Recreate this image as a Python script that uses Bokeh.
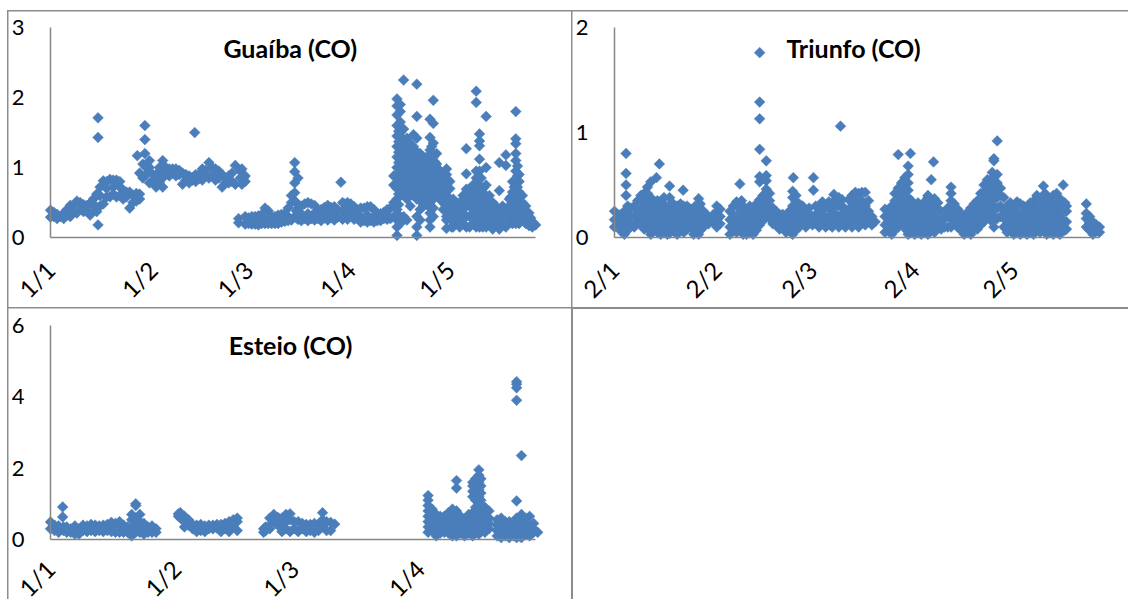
from bokeh.plotting import figure
from bokeh.layouts import column, row
from bokeh.models import Label, FixedTicker, Spacer
from bokeh.embed import file_html
from bokeh.resources import INLINE
import math

# Each station: days since the first tick, and the readings seen in that day's column.
guaiba_days = [0,2,4,6,8,10,12,14,14.4,16,18,20,22,24,26,26.3,28,28.6,30,32,34,36,38,40,42,43.7,44,46,48,50,52,54,56,57,58,59,61,63,65,67,69,71,73,74,75,77,79,81,83,85,87,88,89,91,93,95,97,99,101,103,
               104,105,106,107,108,109,110,111,112,113,114,115,116,117,118,119,120,121,122,124,126,127,129,130,131,132,134,136,138,140,141,142,144,145,146,147]
guaiba_vals = [[.29,.39],[.27,.33],[.27,.35],[.30,.46],[.35,.52],[.37,.47],[.32,.49],[.37,.62],[.18,1.43,1.71],[.48,.81],[.58,.83],[.58,.82],[.55,.68],[.42,.65],[.52,.63],[1.17],[.85,1.05],[1.2,1.4,1.6],[.78,1.0,1.1],[.72,.85],[.72,.85,1.1],[.88,.98],[.88,.98],[.76,.92],[.78,.88],[1.5],[.80,.90],[.82,.98],[.85,1.07],[.82,.98],[.72,.90],[.78,.88],[.76,1.03],[.21,.27],[.76,.98],[.19,.30,.80,.88],[.19,.30],[.18,.31],[.2,.42],[.2,.30],[.2,.32],[.23,.34],[.25,.5,.6],[.3,.52,.64,.78,.94,1.07],[.26,.42,.85],[.27,.48],[.27,.48],[.27,.38],[.28,.43],[.28,.43],[.29,.40],[.79],[.3,.48],[.3,.48],[.27,.40],[.24,.42],[.24,.44],[.24,.33],[.27,.36],[.27,.42],
               [.3,.5,.75,.88],[.03,.15,.25,.4,.55,.7,.85,1.0,1.15,1.3,1.45,1.6,1.75,1.88,1.98],[.2,.3,.6,.75,.9,1.05,1.2,1.35,1.5,1.65,1.8,1.9],[.3,.65,.8,.95,1.1,1.25,1.4,1.55,2.25],[.25,.55,.7,.85,1.0,1.15,1.3,1.42],[.45,.75,.9,1.05,1.2,1.35],[.6,.75,.9,1.05,1.2,1.3,1.47],[.03,.15,.3,.55,.7,.85,1.0,1.15,1.42,1.73,2.19],[.25,.4,.6,.75,.9,1.05,1.2],[.45,.6,.75,.9,1.05,1.15],[.55,.7,.85,1.0,1.15],[.15,.25,.35,.5,.65,.8,.95,1.1,1.25,1.43,1.69],[.3,.42,.55,.7,.85,1.0,1.15,1.35,1.63,1.96],[.6,.75,.9,1.05,1.2],[.6,.75,.85,.95],[.4,.55,.7,.85],[.13,.25,.3,.45,.6,.75,.9,.98],[.4,.55,.7,.8],[.15,.25,.35,.45,.55],[.15,.3,.45,.5],[.15,.3,.45,.55,.69,.91,1.27],[.15,.3,.45,.6,.7],[.15,.3,.45,.6,.75,.85,.95,1.93,2.09],[.15,.3,.45,.6,.75,.95,1.12,1.31,1.38,1.48],[.15,.3,.45,.6,.7],[.15,.3,.45,.6,.75,1.0,1.73],[.12,.25,.4,.5],[.12,.25,.4,.67,1.07],[.15,.3,.4,1.03,1.18],[.2,.35,.5,.65,.8],[.2,.35,.5,.65,.8,.95,1.1,1.2,1.34,1.41,1.80],[.2,.35,.5,.65,.8,.9],[.2,.3,.45],[.17,.25,.35],[.15,.22],[.18]]
guaiba_more_days = [1,3,5,7,9,11,13,15,17,19,21,23,25,27,29,31,33,35,37,39,41,43,45,47,49,51,53,55,57.5,58.5,60,62,64,66,68,70,72,74.5,76,78,80,82,84,86,88.5,90,92,94,96,98,100,102,
                    105.5,106.5,107.5,108.5,109.5,110.5,111.5,112.5,113.5,114.5,115.5,116.5,117.5,118.5,119.5,120.5,121.5,123,125,128,129.5,130.5,133,135,137,139,139.5,140.5,141.5,143,144.5,145.5,146.5]
guaiba_more_vals = [[.3,.36],[.3],[.32,.4],[.36,.46],[.4,.5],[.38,.46],[.38,.48,.55],[.45,.6,.72],[.58,.7,.8],[.62,.72,.82],[.6,.72,.8],[.58,.65],[.5,.6],[.55,.62,.92],[.9,1.0],[.8,.9],[.78,.85,.95,1.0],[.92,1.0],[.92,.98],[.9,.96],[.82,.9],[.82,.86],[.84,.9],[.88,.96],[.9,1.0],[.85,.95],[.78,.85],[.8,.92],[.85,.95],[.85],
                    [.2,.24,.28],[.19,.25,.3],[.2,.26,.33],[.2,.27,.38],[.2,.25,.3],[.22,.28,.33],[.24,.3,.42],[.28,.38,.5],[.24,.34,.45],[.24,.34,.5],[.25,.35,.46],[.24,.32,.4],[.25,.34,.46],[.25,.34,.44],[.26,.38,.5],[.26,.38,.5],[.26,.36,.44],[.22,.3,.42],[.22,.32,.44],[.22,.3,.4],[.24,.3,.34],[.26,.32,.4],
                    [.32,.47,.62,.77,.92,1.07,1.22,1.37,1.52],[.68,.83,.98,1.12,1.28,1.42],[.6,.72,.88,1.02,1.18,1.32],[.62,.78,.92,1.08,1.22],[.68,.82,.98,1.12,1.28],[.68,.82,.98,1.12,1.25],[.62,.78,.92,1.08],[.5,.68,.82,.98,1.12],[.52,.68,.82,.98,1.1],[.45,.62,.78,.92,1.08],[.58,.72,.88,1.02,1.18,1.3],[.62,.78,.92,1.08],[.68,.82,.98],[.52,.68,.8],[.48,.62,.78],[.5,.68,.82],[.15,.25,.35],[.2,.3,.4,.5],[.2,.35,.4,.5,.6],[.2,.35,.5,.65,.75],[.22,.38,.52,.68],[.22,.38,.52,.68,.85],[.2,.35,.5,.6],[.18,.32,.45],[.18,.32,.45],[.22,.35,.45,.55],[.28,.42,.58],[.28,.42,.58,.72],[.28,.42,.58,.72,.88,1.02],[.25,.38,.5,.6],[.25,.32],[.2,.28],[.2]]

triunfo_days = [0,2,3,3.5,6,8,10,11,12.7,13,13.6,14,16,16.7,19,20.8,21,23,24,25.5,27,28,31,35,37,38,39,40,42,44,46,48,50,52,54,54.2,56,58,60,60.3,62,64,66,66.5,68,68.5,70,72,74,76,78,79,
                82,84,86,88,89,89.7,91,93,95,96,96.7,97,99,101,102,104,106,108,110,112,114,115,116,117,119,121,123,125,127,129,130,131,133,135,136,137,143,145,147]
triunfo_vals = [[.10,.17,.25],[.06,.14,.22],[.03,.1,.18,.25],[.40,.50,.61,.80],[.1,.2,.3],[.12,.2,.28,.4],[.12,.2,.3,.42,.48],[.03,.12,.2,.3,.38,.53],[.57],[.05,.14,.23,.35],[.70],[.03,.1,.2,.3],[.03,.12,.2,.28],[.04,.12,.2,.3,.38,.49],[.03,.12,.2,.3],[.45],[.05,.13,.22,.3],[.1,.18,.27],[.03,.1,.18,.25],[.03,.1,.2,.3,.37],[.1,.18,.25],[.17],[.1,.17,.24,.3],[.03,.1,.17,.25],[.05,.12,.2,.3,.34],[.51],[.03,.1,.2,.3],[.03,.1,.18,.26],[.03,.1,.18,.28],[.12,.2,.3,.36,.53,.58,.84,1.13,1.29,1.76],[.22,.3,.4,.46,.54,.59,.73],[.13,.2,.28],[.08,.15,.22],[.05,.12,.2],[.03,.1,.2,.3,.38,.44],[.57],[.1,.18,.27,.32],[.1,.18,.26],[.12,.2],[.45,.57],[.1,.18,.28],[.1,.17,.28],[.1,.18,.25],[.41],[.1,.2,.3,.38],[1.06],[.1,.18,.26],[.1,.2,.3,.4],[.1,.2,.3,.42],[.12,.2,.3,.43],[.12,.2],[.15],
                [.05,.12,.2,.27],[.03,.1,.2,.3],[.1,.2,.3,.4,.47,.79],[.1,.2,.3,.4,.5,.57],[.03,.1,.2,.3,.38,.45,.52,.6,.68],[.80],[.03,.1,.2,.3],[.03,.12,.2,.3],[.03,.1,.2,.3,.38,.40],[.55],[.72],[.05,.12,.2,.3,.37],[.08,.15,.25],[.1,.2,.28],[.1,.18,.27,.35,.42,.48],[.1,.18,.27],[.03,.1,.18],[.03,.1,.2,.28],[.08,.15,.25,.35],[.15,.25,.35,.43,.5],[.2,.3,.4,.5,.55],[.1,.2,.3,.4,.5,.57,.73,.75],[.92],[.2,.3,.4,.47],[.05,.12,.2,.3],[.03,.1,.2,.3],[.03,.1,.2,.32],[.03,.1,.2,.28],[.03,.1,.2,.3,.34],[.05,.12,.2,.3,.37],[.49],[.03,.1,.2,.3,.37],[.03,.1,.2,.3,.4],[.03,.1,.2,.3,.37],[.50],[.08,.15,.25,.3],[.1,.18,.23,.32],[.03,.1,.15],[.05,.1]]
triunfo_more_days = [1,2.5,4,5,7,9,10.5,12,13.5,15,17.5,18,20,22,24.5,26,28.5,30,32,36,38.5,41,43,45,47,49,51,53,55,57,59,61,63,65,67,69,71,73,75,77,
                     83,85,87,88.5,90,92,94,96,98,100,103,105,107,109,111,113,114.5,116,118,120,122,124,126,128,130.5,132,134,136.5,144,146]
triunfo_more_vals = [[.14,.22],[.1,.18],[.07,.14,.22,.3],[.12,.2,.28],[.15,.25,.35],[.08,.16,.24,.34,.42],[.07,.16,.25,.35],[.08,.16,.26,.34],[.06,.1,.18,.28],[.07,.16,.24,.32,.38],[.08,.16,.25,.33],[.06,.16,.26],[.08,.17,.25,.32],[.08,.15,.24,.3],[.06,.14,.22,.3],[.07,.15,.22,.32],[.13,.2],[.15,.22],[.13,.2,.27],[.07,.14,.22,.3],[.07,.15,.25,.35],[.07,.14,.22,.3],[.07,.14,.24,.32],[.16,.26,.33,.4],[.18,.26,.35,.42],[.12,.18,.25],[.09,.16,.22],[.08,.15,.25],[.07,.15,.25,.34,.4],[.14,.22,.3],[.14,.22,.28],[.14,.22,.3],[.14,.22,.3,.34],[.12,.2,.3,.34],[.14,.22,.3,.36],[.14,.22,.3,.36],[.14,.24,.36],[.14,.25,.35,.43],[.14,.24,.35,.43],[.16,.25,.35],
                     [.08,.15,.24],[.07,.15,.25,.35,.42],[.15,.25,.35,.45,.52],[.07,.15,.25,.35,.45],[.07,.15,.25,.35],[.07,.15,.25,.33],[.07,.15,.25,.34],[.07,.15,.25,.35],[.1,.18,.27,.33],[.1,.18,.24],[.14,.22,.32],[.07,.14,.23],[.07,.15,.24],[.08,.16,.24,.32],[.12,.2,.3,.42],[.2,.3,.4,.48,.55],[.15,.25,.35,.45,.55,.62],[.18,.28,.38,.45,.52,.6],[.1,.18,.26,.38],[.07,.16,.25,.33],[.07,.15,.25,.34],[.07,.15,.24,.3],[.07,.15,.24,.33],[.07,.15,.25,.38,.4],[.07,.15,.25,.34,.42],[.07,.15,.25,.34],[.07,.15,.25,.33,.42],[.07,.15,.25,.33],[.07,.14,.2],[.06,.12]]

esteio_days = [0,2,3,4,6,7,8,10,12,14,16,18,20,21,23,24,32,33,35,37,39,40,41,43,45,52.5,54,55,56,58,60,62,64,66,67,68,70,
               93,95,97,99,100,102,104,105.5,107,111,113,114.8,116,118,120]
esteio_vals = [[.3,.49],[.2,.38],[.63,.91],[.2,.35],[.15,.3,.38],[.15,.3],[.25,.4],[.25,.42],[.25,.38],[.25,.42],[.2,.45],[.2,.4],[.1,.3,.55,.7],[.2,.4,.6,.95,1.0],[.15,.3,.45],[.2,.35],[.6,.75],[.35,.5,.65],[.3,.42],[.25,.42],[.3,.4],[.3,.4],[.32,.42],[.3,.45],[.35,.55],[.2,.3],[.3,.4,.6],[.55,.7],[.4,.62],[.3,.5,.7],[.3,.5],[.3,.45],[.25,.42],[.25,.42],[.35,.55,.75],[.25,.5],[.43],
               [.2,.35,.5,.65,.8,.95,1.1,1.23],[.1,.25,.4,.55,.7],[.2,.35,.5,.65],[.1,.25,.4,.55,.7,.85],[.1,.25,.4,.55,.8,1.44,1.65],[.1,.25,.4,.55],[.1,.25,.4,.55,.75,1.2,1.35,1.5,1.6],[.15,.3,.5,.8,1.0,1.2,1.4,1.6,1.8,1.95],[.2,.35,.5,.7,.9],[.05,.2,.35,.6],[.05,.2,.35,.5],[.05,.2,.35,.5,.6,1.08,3.9,4.25,4.35,4.42],[.05,.2,.35,.55,.7,2.35],[.1,.25,.4,.65],[.2]]
esteio_more_days = [1,3.2,5,9,11,13,15,17,19,22,25,26,31.5,34,36,38,42,44,46,53,55.5,57,59,61,63,65,69,
                    94,96,98,101,103,104.7,106,108,110,112,114,115.5,117,119]
esteio_more_vals = [[.25,.4],[.25,.35],[.2,.3],[.22,.38],[.22,.4],[.22,.4],[.22,.4,.48],[.2,.4,.5],[.2,.35],[.2,.35,.5,.7],[.2,.38],[.2,.3],[.65,.72],[.4,.55],[.22,.4],[.22,.38],[.22,.42],[.22,.5],[.25,.5,.6],[.25,.35],[.45,.6],[.22,.45,.6],[.22,.55,.72],[.22,.5],[.22,.42],[.2,.45],[.25,.48],
                    [.25,.4,.55,.7,.85],[.18,.35,.5,.65],[.18,.32,.48,.62,.75],[.18,.32,.48,.65],[.18,.32,.48,.7],[.2,.35,.6,.9,1.1,1.3,1.5,1.7],[.22,.38,.6,.9,1.1,1.3,1.5,1.7],[.3,.45,.6,.8],[.1,.25,.4,.55],[.1,.25,.4,.5],[.1,.25,.4],[.1,.25,.45,.6],[.15,.3,.45,.6],[.2,.3,.45]]

guaiba_ticks = [0,31,60,91,121]
guaiba_labels = ["1/1","1/2","1/3","1/4","1/5"]
triunfo_labels = ["2/1","2/2","2/3","2/4","2/5"]
esteio_ticks = [0,31,60,91]
esteio_labels = ["1/1","1/2","1/3","1/4"]

BLUE = "#4a7ebb"
GREY = "#868686"
BORDER = "#8c8c8c"
FONT = "Lato"


def panel(title, days, vals, ticks, labels, yticks, w, h, xr, yr, xend, ymax, title_at, xstand, clip):
    xs = [d for d, col in zip(days, vals) for _ in col]
    ys = [v for col in vals for v in col]
    p = figure(width=w, height=h, x_range=xr, y_range=yr, output_backend="svg",
               toolbar_location=None, min_border=0, outline_line_color=None)
    p.styles = {"outline": f"2px solid {BORDER}", "outline-offset": "-1px", "clip-path": clip}
    p.grid.visible = False
    p.scatter(xs, ys, marker="square", angle=math.pi / 4, size=7.6,
              fill_color=BLUE, line_color=BLUE, line_width=0.5)
    xa, ya = p.xaxis[0], p.yaxis[0]
    xa.fixed_location = 0
    xa.bounds = (0, xend)
    xa.ticker = FixedTicker(ticks=ticks)
    xa.major_label_overrides = {t: l for t, l in zip(ticks, labels)}
    xa.major_label_orientation = math.pi / 4
    xa.major_label_standoff = xstand
    ya.fixed_location = 0
    ya.bounds = (0, ymax)
    ya.ticker = FixedTicker(ticks=yticks)
    ya.major_label_standoff = 26
    for a in (xa, ya):
        a.axis_line_color = GREY
        a.axis_line_width = 1.5
        a.major_tick_line_color = None
        a.minor_tick_line_color = None
        a.major_tick_out = 0
        a.major_tick_in = 0
        a.major_label_text_font = FONT
        a.major_label_text_color = "#000000"
    xa.major_label_text_font_size = "24px"
    ya.major_label_text_font_size = "22px"
    p.add_layout(Label(x=title_at[0], y=title_at[1], text=title, text_font=FONT,
                       text_font_style="bold", text_font_size="25px", text_color="#000000"))
    return p


p1 = panel("Guaíba (CO)", guaiba_days + guaiba_more_days, guaiba_vals + guaiba_more_vals,
           guaiba_ticks, guaiba_labels, [0,1,2,3],
           564, 297, (-12.727, 158.18), (-1.014, 3.229), 147, 3, (52.4, 2.5), 28, "inset(-2px)")
p2 = panel("Triunfo (CO)", triunfo_days + triunfo_more_days, triunfo_vals + triunfo_more_vals,
           guaiba_ticks, triunfo_labels, [0,1,2],
           558, 297, (-12.727, 156.4), (-0.676, 2.152), 147, 2, (52.1, 1.66), 28, "inset(-2px 2px -2px -2px)")
p3 = panel("Esteio (CO)", esteio_days + esteio_more_days, esteio_vals + esteio_more_vals,
           esteio_ticks, esteio_labels, [0,2,4,6],
           564, 293, (-10.345, 128.57), (-1.737, 6.47), 119.4, 6, (43.9, 5.04), 25, "inset(-2px -2px 2px -2px)")
empty = Spacer(width=558, height=293,
               styles={"outline": f"2px solid {BORDER}", "outline-offset": "-1px", "clip-path": "inset(-2px 2px 2px -2px)"})

grid = column(Spacer(width=10, height=11), row(p1, p2, spacing=0), row(p3, empty, spacing=0), spacing=0)
page = row(Spacer(width=8, height=10), grid, spacing=0)
open("out.html", "w").write(file_html(page, INLINE))
